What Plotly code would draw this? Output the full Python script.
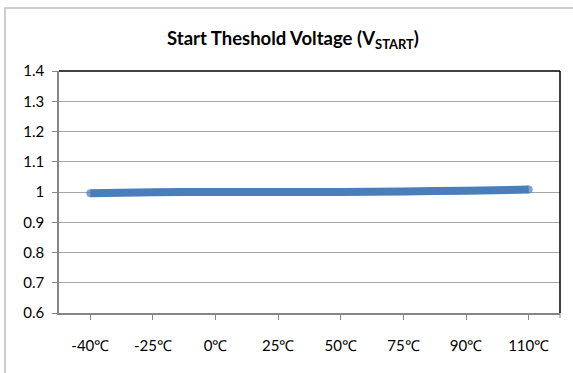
import plotly.graph_objects as go

categories = ["-40℃", "-25℃", "0℃", "25℃", "50℃", "75℃", "90℃", "110℃"]
vstart = [0.996, 0.999, 1.0, 1.0, 1.0, 1.002, 1.004, 1.008]
y_ticks = [0.6, 0.7, 0.8, 0.9, 1.0, 1.1, 1.2, 1.3, 1.4]
y_ticktext = ["0.6", "0.7", "0.8", "0.9", "1", "1.1", "1.2", "1.3", "1.4"]

W, H = 573, 373
L, R, T, B = 59, 13, 71, 60
pw, ph = W - L - R, H - T - B

xs = list(range(len(categories)))
FONT = "Lato, Open Sans, sans-serif"
LINE_C = "#4A7EBB"

# round caps at the ends of the line
cap_sizes = [8] + [0] * (len(categories) - 2) + [8]

fig = go.Figure()
fig.add_trace(go.Scatter(
    x=xs, y=vstart, mode="lines+markers",
    line=dict(color=LINE_C, width=8, shape="spline", smoothing=0.6),
    marker=dict(color=LINE_C, size=cap_sizes, line=dict(width=0)),
    hoverinfo="skip", showlegend=False,
))

fig.update_layout(
    width=W, height=H,
    margin=dict(l=L, r=R, t=T, b=B, pad=0),
    paper_bgcolor="white", plot_bgcolor="white",
    font=dict(family=FONT, size=15, color="black"),
    title=dict(
        text="<b>Start Theshold Voltage (V<sub>START</sub>)</b>",
        font=dict(family=FONT, size=18.5, color="black"),
        x=293 / W, xanchor="center", xref="container",
        y=1 - 39 / H, yanchor="middle", yref="container",
    ),
    xaxis=dict(
        range=[-0.5, len(categories) - 0.5],
        tickmode="array", tickvals=xs, ticktext=categories,
        ticks="outside", ticklen=5, tickcolor="#868686", tickwidth=1,
        showline=True, linecolor="#868686", linewidth=1.5,
        showgrid=False, zeroline=False,
        ticklabelstandoff=13,
        tickfont=dict(family=FONT, size=15, color="black"),
        fixedrange=True,
    ),
    yaxis=dict(
        range=[0.6, 1.4],
        tickmode="array", tickvals=y_ticks, ticktext=y_ticktext,
        ticks="outside", ticklen=5, tickcolor="#868686", tickwidth=1,
        showline=True, linecolor="#868686", linewidth=1.5,
        showgrid=True, gridcolor="#A6A6A6", gridwidth=1,
        zeroline=False,
        ticklabelstandoff=5,
        tickfont=dict(family=FONT, size=15, color="black"),
        fixedrange=True,
    ),
)

# plot area top/right borders (black)
fig.add_shape(type="line", xref="paper", yref="paper", x0=0, x1=1, y0=1, y1=1,
              line=dict(color="black", width=1.5))
fig.add_shape(type="line", xref="paper", yref="paper", x0=1, x1=1, y0=0, y1=1,
              line=dict(color="black", width=1.5))
# extra axis tick at the right end of the category axis
fig.add_shape(type="line", xref="paper", yref="paper", x0=1, x1=1,
              ysizemode="pixel", yanchor=0, y0=0, y1=-5,
              line=dict(color="#868686", width=1))

# chart outer border (extends past right/bottom edges)
fig.add_shape(type="rect", xref="paper", yref="paper",
              x0=(5 - L) / pw, x1=(W + 10 - L) / pw,
              y0=(H - B - (H + 10)) / ph, y1=(H - B - 8) / ph,
              line=dict(color="#BFBFBF", width=1.5), fillcolor="rgba(0,0,0,0)",
              layer="below")

fig.write_html("out.html")
